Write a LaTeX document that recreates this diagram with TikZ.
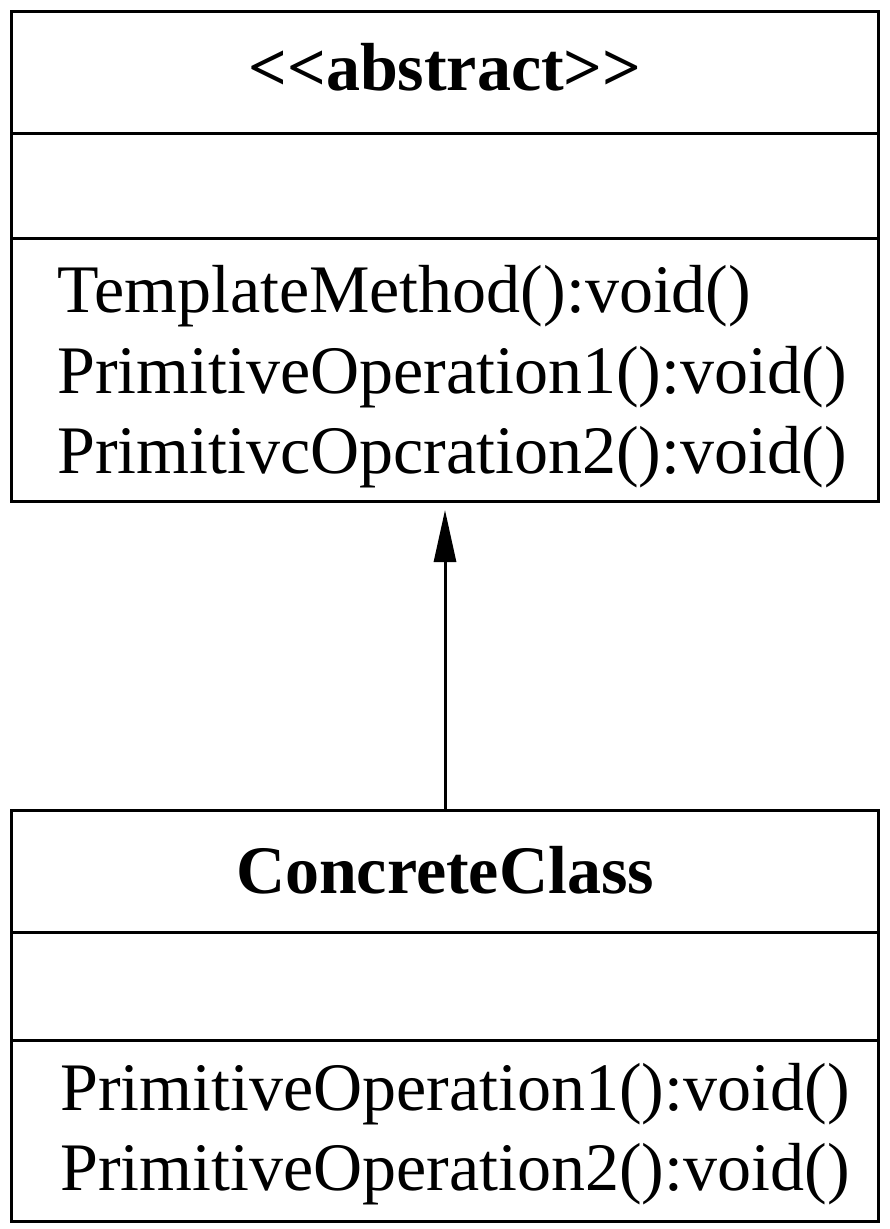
\documentclass[tikz,border=0pt]{standalone}
\usepackage{fontspec}
\setmainfont{Liberation Serif}
\usetikzlibrary{arrows.meta}
\begin{document}
\begin{tikzpicture}[x=1pt,y=-1pt,
  box/.style={draw, line width=3pt, rectangle, inner sep=0pt, anchor=north west},
  divider/.style={line width=3pt},
  title/.style={font=\fontsize{68}{81}\selectfont\bfseries, anchor=base, inner sep=0pt},
  op/.style={font=\fontsize{68}{81}\selectfont, anchor=base west, inner sep=0pt},
  inherit/.style={line width=3pt, -{Triangle[length=52pt,width=22pt]}, shorten >=7pt}]
\fill[white] (0,0) rectangle (890,1229);
\useasboundingbox (0,0) rectangle (890,1229);
% abstract class
\node[box, minimum width=867pt, minimum height=490pt] (abs) at (10,10) {};
\draw[divider] ([yshift=-123pt]abs.north west) -- ([yshift=-123pt]abs.north east);
\draw[divider] ([yshift=-228pt]abs.north west) -- ([yshift=-228pt]abs.north east);
\node[title] (absname) at (445,90) {<{}<abstract>{}>};
\node[op] (a1) at (57,312) {TemplateMethod():void()};
\node[op] (a2) at (57,393) {PrimitiveOperation1():void()};
\node[op] (a3) at (57,473) {PrimitivcOpcration2():void()};
% concrete class
\node[box, minimum width=867pt, minimum height=411pt] (cc) at (10,809) {};
\draw[divider] ([yshift=-123pt]cc.north west) -- ([yshift=-123pt]cc.north east);
\draw[divider] ([yshift=-231pt]cc.north west) -- ([yshift=-231pt]cc.north east);
\node[title] (ccname) at (445,893) {ConcreteClass};
\node[op] (c1) at (60,1110) {PrimitiveOperation1():void()};
\node[op] (c2) at (60,1190) {PrimitiveOperation2():void()};
% generalization
\draw[inherit] (cc.north) -- (abs.south);
\end{tikzpicture}
\end{document}
